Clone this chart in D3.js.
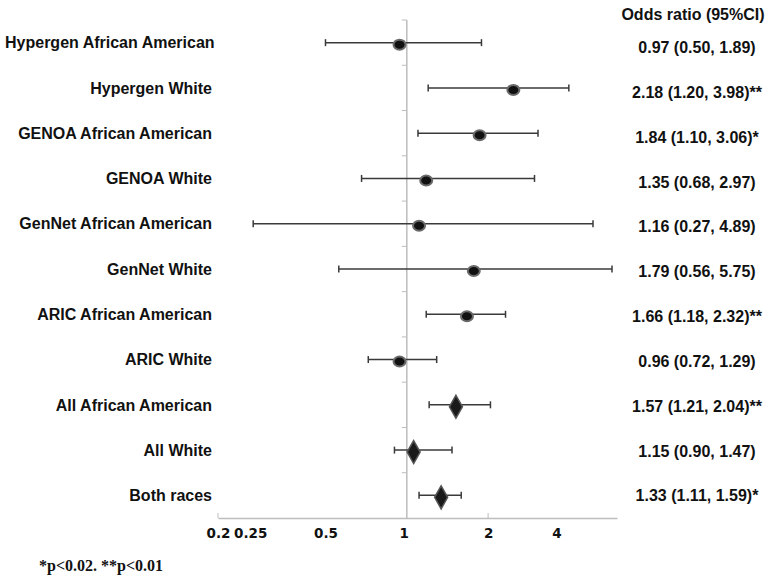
<!DOCTYPE html>
<html>
<head>
<meta charset="utf-8">
<script src="https://cdn.jsdelivr.net/npm/d3@7"></script>
<style>
  html, body { margin: 0; padding: 0; background: #fff; }
  svg { display: block; }
</style>
</head>
<body>
<svg id="chart" width="771" height="581"></svg>
<script>
// ---- data ----
const categories = [
  "Hypergen African American", "Hypergen White", "GENOA African American", "GENOA White",
  "GenNet African American", "GenNet White", "ARIC African American", "ARIC White",
  "All African American", "All White", "Both races"
];
// point estimates as drawn in the picture
const estimates = [0.94, 2.48, 1.86, 1.18, 1.11, 1.77, 1.67, 0.94, 1.52, 1.06, 1.34];
const lower = [0.50, 1.20, 1.10, 0.68, 0.27, 0.56, 1.18, 0.72, 1.21, 0.90, 1.11];
const upper = [1.89, 3.98, 3.06, 2.97, 4.89, 5.75, 2.32, 1.29, 2.04, 1.47, 1.59];
const markerType = ["circle", "circle", "circle", "circle", "circle", "circle", "circle", "circle", "diamond", "diamond", "diamond"];
const ciLabels = [
  "0.97 (0.50, 1.89)", "2.18 (1.20, 3.98)**", "1.84 (1.10, 3.06)*", "1.35 (0.68, 2.97)",
  "1.16 (0.27, 4.89)", "1.79 (0.56, 5.75)", "1.66 (1.18, 2.32)**", "0.96 (0.72, 1.29)",
  "1.57 (1.21, 2.04)**", "1.15 (0.90, 1.47)", "1.33 (1.11, 1.59)*"
];
const tickValues = [0.2, 0.25, 0.5, 1, 2, 4];
const tickMarkValues = [0.2, 2];
const headerText = "Odds ratio (95%CI)";
const footnote = "*p<0.02. **p<0.01";

// ---- layout ----
const svg = d3.select("#chart");
const x = d3.scaleLog().domain([0.2, 6]).range([218, 617]);
const y = d3.scaleBand().domain(categories).range([20, 518]).paddingInner(0).paddingOuter(0);
const yText = d3.scaleBand().domain(categories).range([25, 518]);
const refX = x(1);

const axisColor = "#bdbdbd";
const lineColor = "#3a3a3a";
const sans = "'Liberation Sans', Arial, sans-serif";

// vertical reference line at 1
svg.append("line")
  .attr("x1", refX).attr("x2", refX)
  .attr("y1", y.range()[0]).attr("y2", y.range()[1])
  .attr("stroke", axisColor).attr("stroke-width", 1.5);

// small ticks on reference line at row boundaries
svg.append("g").selectAll("line")
  .data(categories)
  .join("line")
  .attr("x1", refX - 5).attr("x2", refX)
  .attr("y1", d => y(d)).attr("y2", d => y(d))
  .attr("stroke", axisColor).attr("stroke-width", 1);

// bottom axis
const labelNudge = {0.25: 6, 1: -3, 4: -13};
const axisG = svg.append("g")
  .attr("transform", `translate(0,${y.range()[1]})`)
  .call(d3.axisBottom(x).tickValues(tickValues).tickSize(0).tickPadding(10)
    .tickFormat(d => String(d)));
axisG.select(".domain").attr("stroke", axisColor).attr("stroke-width", 1.5);
axisG.selectAll("text")
  .attr("font-family", "'DejaVu Sans', Verdana, sans-serif").attr("font-weight", "bold")
  .attr("font-size", 13.5).attr("fill", "#111")
  .attr("dx", d => labelNudge[d] || 0);

svg.append("g").selectAll("line")
  .data(tickMarkValues)
  .join("line")
  .attr("x1", d => x(d)).attr("x2", d => x(d))
  .attr("y1", y.range()[1] - 5).attr("y2", y.range()[1])
  .attr("stroke", axisColor).attr("stroke-width", 1);

// rows
const rows = svg.append("g").selectAll("g")
  .data(categories.map((c, i) => ({c, i})))
  .join("g");

const cy = d => y(d.c) + y.bandwidth() / 2;

// CI lines
rows.append("line")
  .attr("x1", d => x(lower[d.i])).attr("x2", d => x(upper[d.i]))
  .attr("y1", cy).attr("y2", cy)
  .attr("stroke", lineColor).attr("stroke-width", 1.5);
rows.append("line")
  .attr("x1", d => x(lower[d.i])).attr("x2", d => x(lower[d.i]))
  .attr("y1", d => cy(d) - 3.5).attr("y2", d => cy(d) + 3.5)
  .attr("stroke", lineColor).attr("stroke-width", 1.5);
rows.append("line")
  .attr("x1", d => x(upper[d.i])).attr("x2", d => x(upper[d.i]))
  .attr("y1", d => cy(d) - 3.5).attr("y2", d => cy(d) + 3.5)
  .attr("stroke", lineColor).attr("stroke-width", 1.5);

// markers
rows.filter(d => markerType[d.i] === "circle")
  .append("ellipse")
  .attr("cx", d => x(estimates[d.i])).attr("cy", d => cy(d) + 2)
  .attr("rx", 6).attr("ry", 5)
  .attr("fill", "#111").attr("stroke", "#6a6a6a").attr("stroke-width", 2);

rows.filter(d => markerType[d.i] === "diamond")
  .append("path")
  .attr("transform", d => `translate(${x(estimates[d.i])},${cy(d) + 2})`)
  .attr("d", "M0,-11.5 L6.5,0 L0,11.5 L-6.5,0 Z")
  .attr("fill", "#1a1a1a").attr("stroke", "#555").attr("stroke-width", 1.5);

// category labels
const catLabels = svg.append("g").selectAll("text")
  .data(categories)
  .join("text")
  .attr("x", 212)
  .attr("y", d => y(d) + y.bandwidth() / 2)
  .attr("dy", "0.36em")
  .attr("text-anchor", "end")
  .attr("font-family", sans).attr("font-weight", "bold")
  .attr("font-size", 16).attr("fill", "#111")
  .text(d => d);
catLabels.each(function() {
  const b = this.getBBox();
  if (b.x < 5) {
    d3.select(this).attr("text-anchor", "start").attr("x", 5);
  }
});

// header
svg.append("text")
  .attr("x", 693).attr("y", 20)
  .attr("text-anchor", "middle")
  .attr("font-family", sans).attr("font-weight", "bold")
  .attr("font-size", 16).attr("fill", "#111")
  .text(headerText);

// CI labels
svg.append("g").selectAll("text")
  .data(categories.map((c, i) => ({c, i})))
  .join("text")
  .attr("x", 697)
  .attr("y", d => yText(d.c) + yText.bandwidth() / 2)
  .attr("dy", "0.36em")
  .attr("text-anchor", "middle")
  .attr("font-family", sans).attr("font-weight", "bold")
  .attr("font-size", 16).attr("fill", "#111")
  .text(d => ciLabels[d.i]);

// footnote
svg.append("text")
  .attr("x", 39).attr("y", 571)
  .attr("font-family", "'Liberation Serif', 'Times New Roman', serif")
  .attr("font-weight", "bold").attr("font-size", 16).attr("fill", "#111")
  .text(footnote);
</script>
</body>
</html>
